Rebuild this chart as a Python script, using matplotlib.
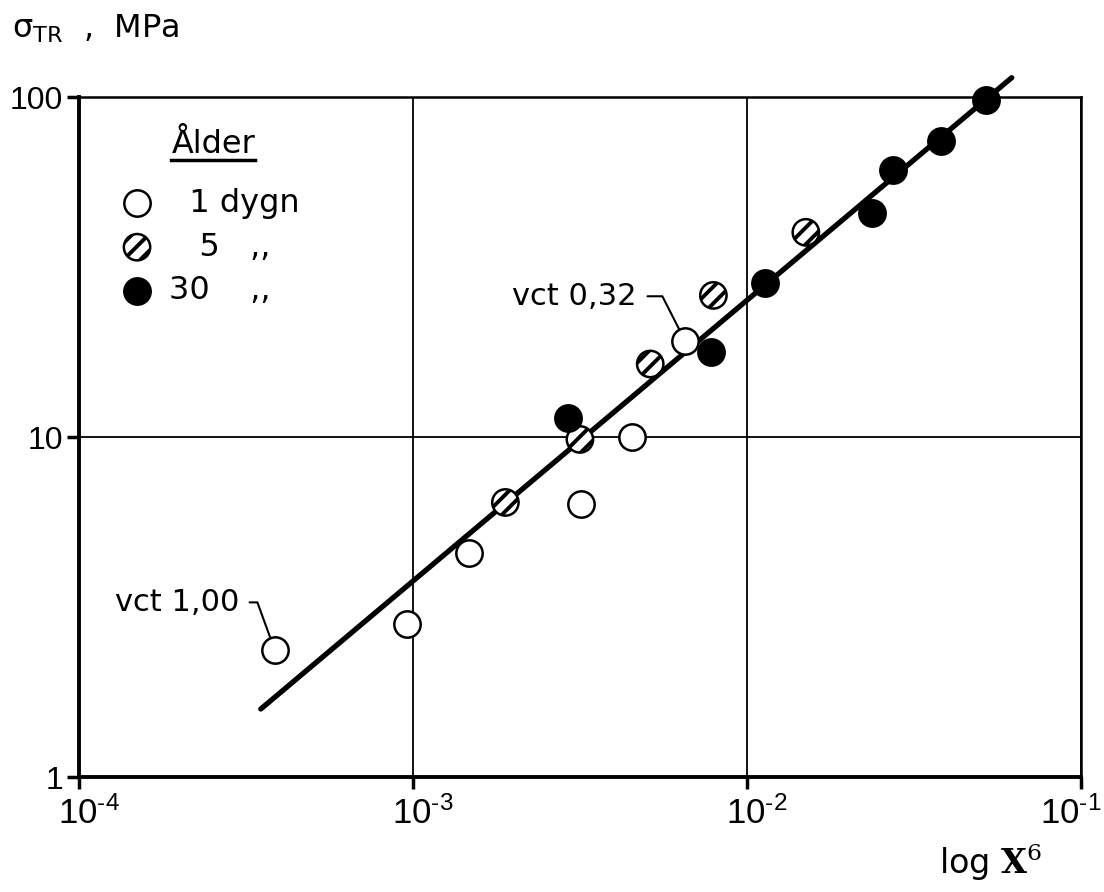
import matplotlib
matplotlib.use('Agg')
import numpy as np
import matplotlib.pyplot as plt
from matplotlib.lines import Line2D
from matplotlib.transforms import IdentityTransform, ScaledTranslation
from matplotlib.ticker import FixedLocator, FuncFormatter, NullLocator

# age groups: 1 dygn (open), 5 dygn (hatched), 30 dygn (filled)
x_1d = [3.85e-4, 9.6e-4, 1.47e-3, 3.18e-3, 4.53e-3, 6.52e-3]
y_1d = [2.37, 2.82, 4.56, 6.37, 10.0, 19.2]
x_5d = [1.89e-3, 3.16e-3, 5.13e-3, 7.93e-3, 1.50e-2]
y_5d = [6.42, 9.84, 16.4, 26.1, 40.0]
x_30d = [2.92e-3, 7.8e-3, 1.13e-2, 2.37e-2, 2.74e-2, 3.80e-2, 5.2e-2]
y_30d = [11.4, 17.8, 28.4, 45.7, 61.0, 74.5, 98.0]

# fitted line end points
fit_x = [3.5e-4, 6.2e-2]
fit_y = [1.585, 114.0]

labels = ['  1 dygn', '   5   ,,', '30    ,,']
xticks = [1e-4, 1e-3, 1e-2, 1e-1]
yticks = [1, 10, 100]

plt.rcParams['hatch.linewidth'] = 2.8
plt.rcParams['mathtext.fontset'] = 'custom'
plt.rcParams['mathtext.rm'] = 'Liberation Sans'
plt.rcParams['mathtext.it'] = 'Liberation Sans'
plt.rcParams['mathtext.bf'] = 'Liberation Sans:bold'

fig = plt.figure(figsize=(11.04, 8.92), dpi=100)
ax = fig.add_axes([0.0716, 0.1289, 0.9076, 0.7623])
ax.set_xscale('log')
ax.set_yscale('log')
ax.set_xlim(1e-4, 1e-1)
ax.set_ylim(1, 100)

ax.xaxis.set_major_locator(FixedLocator(xticks))
ax.yaxis.set_major_locator(FixedLocator(yticks))
ax.xaxis.set_minor_locator(NullLocator())
ax.yaxis.set_minor_locator(NullLocator())
ax.xaxis.set_major_formatter(
    FuncFormatter(lambda v, _: '$10^{\u2010%d}$' % abs(round(np.log10(v)))))
ax.yaxis.set_major_formatter(FuncFormatter(lambda v, _: '%g' % v))
ax.tick_params(direction='out', length=8.6, width=2.5)
ax.tick_params(axis='x', labelsize=25, pad=5)
ax.tick_params(axis='y', labelsize=23, pad=3)
for lab in ax.get_yticklabels():
    lab.set_family('Liberation Sans')

ax.grid(True, color='black', lw=1.3)
ax.set_axisbelow(True)
for side in ['left', 'bottom']:
    ax.spines[side].set_linewidth(2.8)
for side in ['top', 'right']:
    ax.spines[side].set_linewidth(1.8)

ax.plot(fit_x, fit_y, color='black', lw=3.8, solid_capstyle='round',
        clip_on=False, zorder=2)

ms = 360
h1 = ax.scatter(x_1d, y_1d, s=ms, facecolor='white', edgecolor='black',
                lw=1.8, zorder=3, label=labels[0])
h5 = ax.scatter(x_5d, y_5d, s=ms, facecolor='white', edgecolor='black',
                lw=1.8, hatch='//', zorder=3, label=labels[1])
h30 = ax.scatter(x_30d, y_30d, s=ms, facecolor='black', edgecolor='black',
                 lw=1.8, zorder=3, label=labels[2], clip_on=False)

# leader labels
ax.annotate('vct 1,00', xy=(x_1d[0], y_1d[0]), xytext=(-25, 34),
            textcoords='offset points', ha='right', va='center', fontsize=22,
            arrowprops=dict(arrowstyle='-', lw=1.5, color='black', relpos=(1, 0.5),
                            shrinkA=5, shrinkB=9.5,
                            connectionstyle='angle,angleA=0,angleB=110,rad=0'))
ax.annotate('vct 0,32', xy=(x_1d[-1], y_1d[-1]), xytext=(-35, 32),
            textcoords='offset points', ha='right', va='center', fontsize=22,
            arrowprops=dict(arrowstyle='-', lw=1.5, color='black', relpos=(1, 0.5),
                            shrinkA=6, shrinkB=9.5,
                            connectionstyle='angle,angleA=0,angleB=117,rad=0'))

# legend: title as its own underlined text, entries below
title = ax.text(0.134, 0.9175, 'Ålder', transform=ax.transAxes, fontsize=23,
                ha='center', va='baseline')
leg = ax.legend(handles=[h1, h5, h30], loc='upper left',
                bbox_to_anchor=(0.026, 0.89), frameon=False, fontsize=23,
                scatterpoints=1, handlelength=1.0, handletextpad=0.5,
                labelspacing=0.4, borderpad=0)

ax.set_ylabel(r'$\mathrm{\sigma_{TR}}$  ,  MPa', rotation=0, fontsize=23,
              ha='left', va='baseline', math_fontfamily='dejavusans')
ax.yaxis.set_label_coords(-0.067, 1.088)
ax.set_xlabel(r'log $\mathbf{X}^{6}$', fontsize=24, math_fontfamily='dejavuserif',
              ha='right', va='center')
ax.xaxis.set_label_coords(0.961, -0.125)

fig.canvas.draw()
bb = title.get_window_extent()
fig.add_artist(Line2D([bb.x0, bb.x1], [bb.y0, bb.y0], lw=2.5,
                      color='black', transform=IdentityTransform()))

# keep the "10" of each x tick label centred on its tick, last one inside the figure
for lab in ax.get_xticklabels():
    lb = lab.get_window_extent()
    shift = min(10.0, fig.bbox.width - 3 - lb.x1)
    lab.set_transform(lab.get_transform() +
                      ScaledTranslation(shift / fig.dpi, 0, fig.dpi_scale_trans))

fig.savefig('out.png', dpi=100)
